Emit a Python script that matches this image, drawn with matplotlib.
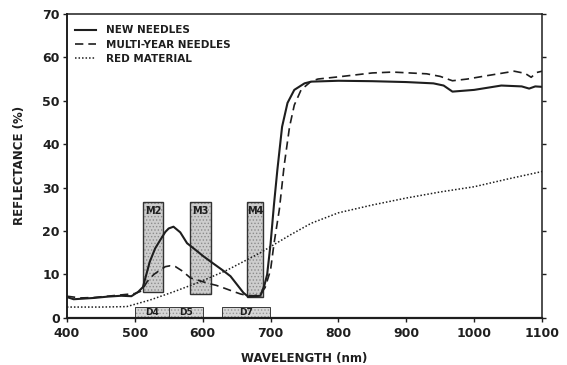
import matplotlib.pyplot as plt

# Spectral reflectance curves
wl_new = [400, 410, 420, 440, 460, 480, 495, 505, 512, 522, 530, 537, 545, 550, 557, 567,
          577, 590, 601, 615, 631, 641, 651, 660, 667, 676, 685, 691, 695, 700, 705, 710,
          717, 725, 735, 750, 760, 800, 850, 900, 940, 955, 968, 1000, 1040, 1070, 1081,
          1090, 1100]
new_needles = [4.8, 4.3, 4.4, 4.6, 4.9, 5.1, 5.0, 6.0, 7.1, 12.9, 16.0, 17.8, 19.8, 20.6,
               21.0, 19.7, 17.2, 15.6, 14.2, 12.6, 10.8, 9.6, 7.6, 5.8, 4.9, 5.0, 5.1, 7.5,
               10.0, 17.0, 26.0, 34.0, 44.0, 49.5, 52.5, 54.0, 54.4, 54.6, 54.5, 54.3, 54.0,
               53.5, 52.1, 52.5, 53.5, 53.3, 52.8, 53.3, 53.2]

wl_multi = [400, 420, 440, 460, 480, 500, 510, 518, 528, 537, 545, 552, 560, 570, 582, 595,
            607, 620, 631, 645, 656, 665, 675, 685, 692, 700, 705, 713, 720, 728, 735, 745,
            760, 770, 800, 850, 880, 930, 950, 968, 990, 1020, 1059, 1075, 1084, 1092, 1100]
multi_year = [5.0, 4.6, 4.7, 5.0, 5.3, 5.6, 6.2, 8.3, 10.0, 11.0, 11.8, 12.0, 11.8, 10.8,
              9.2, 8.6, 8.0, 7.5, 6.9, 6.1, 5.5, 5.2, 5.1, 5.4, 7.0, 11.0, 17.0, 25.0, 35.0,
              44.0, 49.0, 52.5, 54.5, 55.0, 55.5, 56.4, 56.6, 56.2, 55.6, 54.6, 55.0, 55.8,
              56.8, 56.3, 55.4, 56.5, 56.8]

wl_red = [400, 450, 488, 522, 557, 596, 636, 685, 729, 760, 800, 850, 900, 950, 1000,
          1050, 1100]
red_material = [2.5, 2.5, 2.6, 4.1, 6.0, 8.3, 11.0, 15.0, 19.1, 21.8, 24.2, 26.0, 27.6,
                29.0, 30.2, 32.0, 33.7]

# Sensor bands
m_names = ["M2", "M3", "M4"]
m_lo = [512, 581, 666]
m_hi = [542, 613, 689]
m_bottom = [6.0, 5.5, 4.8]
m_top = [26.8, 26.8, 26.8]

d_names = ["D4", "D5", "D7"]
d_lo = [500, 550, 628]
d_hi = [550, 601, 699]
d_top = [2.5, 2.5, 2.5]

ink = "#1e1e1e"
plt.rcParams['font.family'] = 'DejaVu Sans'
plt.rcParams['font.weight'] = 'bold'
plt.rcParams['hatch.linewidth'] = 0.6

fig = plt.figure(figsize=(5.67, 3.65), dpi=100)
ax = fig.add_axes([0.118, 0.129, 0.838, 0.833])

# shaded bands: stippled fill plus a dark outline
for name, lo, hi, b, t in zip(m_names, m_lo, m_hi, m_bottom, m_top):
    ax.bar(lo, t - b, width=hi - lo, bottom=b, align='edge', color='#cdcdcd',
           edgecolor='#8c8c8c', hatch='.....', linewidth=0, zorder=1)
    ax.bar(lo, t - b, width=hi - lo, bottom=b, align='edge', fill=False,
           edgecolor='#333333', linewidth=1.0, zorder=1)
    ax.text((lo + hi) / 2, t - 2.3, name, ha='center', va='center', fontsize=7,
            color=ink, zorder=2)
for name, lo, hi, t in zip(d_names, d_lo, d_hi, d_top):
    ax.bar(lo, t, width=hi - lo, bottom=0, align='edge', color='#d6d6d6',
           edgecolor='#999999', hatch='.....', linewidth=0, zorder=1)
    ax.bar(lo, t, width=hi - lo, bottom=0, align='edge', fill=False,
           edgecolor='#3a3a3a', linewidth=0.7, zorder=1)
    ax.text((lo + hi) / 2, t / 2, name, ha='center', va='center', fontsize=6.5,
            color=ink, zorder=2)

ax.plot(wl_new, new_needles, color=ink, lw=1.5, label="NEW NEEDLES", zorder=3)
ax.plot(wl_multi, multi_year, color=ink, lw=1.2, linestyle=(0, (5, 3)),
        label="MULTI-YEAR NEEDLES", zorder=3)
ax.plot(wl_red, red_material, color=ink, lw=1.1, linestyle=(0, (1, 1.3)),
        label="RED MATERIAL", zorder=3)

ax.set_xlim(400, 1100)
ax.set_ylim(0, 70)
ax.set_xticks(range(400, 1101, 100))
ax.set_yticks(range(0, 71, 10))
ax.tick_params(direction='out', length=3, width=1, colors=ink, labelsize=9,
               right=True, top=False)
ax.tick_params(axis='y', pad=2)
for s in ax.spines.values():
    s.set_color(ink)
    s.set_linewidth(1.1)
ax.spines['bottom'].set_linewidth(1.6)
ax.spines['left'].set_linewidth(1.4)

ax.set_xlabel("WAVELENGTH (nm)", fontsize=8.5, fontweight='bold', color=ink, labelpad=9)
ax.set_ylabel("REFLECTANCE (%)", fontsize=8.5, fontweight='bold', color=ink, labelpad=12)

ax.legend(loc='upper left', bbox_to_anchor=(0.017, 0.962), frameon=False, fontsize=7.5,
          handlelength=2.0, handletextpad=1.0, labelspacing=0.4, borderpad=0,
          borderaxespad=0, labelcolor=ink)

fig.savefig("out.png", dpi=100, facecolor='white')
